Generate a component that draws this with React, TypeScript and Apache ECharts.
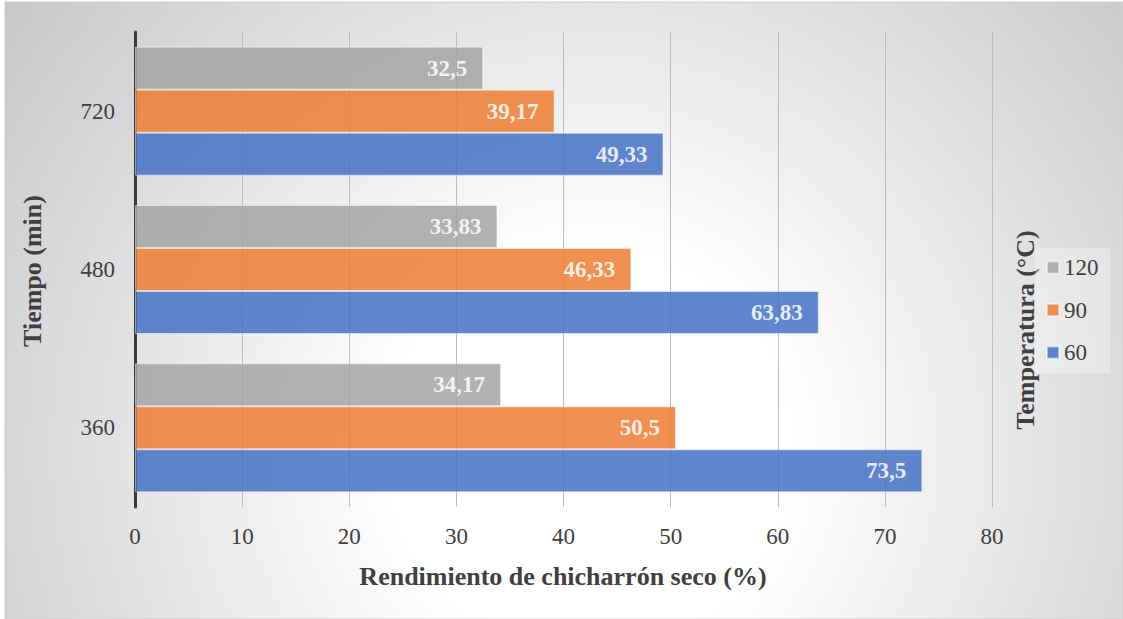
import React, { useEffect, useRef } from "react";
import * as echarts from "echarts";

// Tiempo de cocción (min), de abajo hacia arriba
const tiempos = ["360", "480", "720"];
// Temperaturas (°C), en el orden de la leyenda
const temperaturas = ["120", "90", "60"];
// Rendimiento (%) por temperatura, alineado con `tiempos`
const rend120 = [34.17, 33.83, 32.5];
const rend90 = [50.5, 46.33, 39.17];
const rend60 = [73.5, 63.83, 49.33];
const xTicks = [0, 10, 20, 30, 40, 50, 60, 70, 80];

const colores: Record<string, string> = {
  "120": "#A5A5A5",
  "90": "#ED7D31",
  "60": "#4472C4",
};

const serif = '"Liberation Serif", "Times New Roman", serif';
const ink = "#404040";

export default function App() {
  const ref = useRef<HTMLDivElement>(null);

  useEffect(() => {
    document.body.style.margin = "0";
    if (!ref.current) return;
    const chart = echarts.init(ref.current, undefined, { renderer: "svg" });

    const valores: Record<string, number[]> = {
      "120": rend120,
      "90": rend90,
      "60": rend60,
    };

    const series = temperaturas.map((t) => ({
      name: t,
      type: "bar" as const,
      data: valores[t],
      barGap: "0%",
      barCategoryGap: "18.5%",
      itemStyle: {
        color: colores[t],
        opacity: 0.85,
        borderColor: "rgba(255,255,255,0.55)",
        borderWidth: 1,
      },
      label: {
        show: true,
        position: "insideRight" as const,
        distance: 16,
        color: "#ffffff",
        fontFamily: serif,
        fontWeight: "bold" as const,
        fontSize: 23,
        formatter: (p: any) => String(p.value).replace(".", ","),
      },
    }));

    chart.setOption({
      animation: false,
      graphic: [
        {
          type: "rect",
          z: -10,
          silent: true,
          shape: { x: 5, y: 2, width: 1118, height: 617 },
          style: {
            fill: new echarts.graphic.RadialGradient(
              590,
              450,
              780,
              [
                { offset: 0, color: "#ffffff" },
                { offset: 0.25, color: "#ffffff" },
                { offset: 1, color: "#c2c2c2" },
              ],
              true
            ),
            stroke: "#cfcfcf",
            lineWidth: 1,
          },
        },
        {
          type: "text",
          x: 563,
          y: 576,
          style: {
            text: "Rendimiento de chicharrón seco (%)",
            fontFamily: serif,
            fontWeight: "bold",
            fontSize: 26,
            fill: ink,
            align: "center",
            verticalAlign: "middle",
          },
        },
        {
          type: "text",
          x: 32,
          y: 271,
          rotation: Math.PI / 2,
          style: {
            text: "Tiempo (min)",
            fontFamily: serif,
            fontWeight: "bold",
            fontSize: 26,
            fill: ink,
            align: "center",
            verticalAlign: "middle",
          },
        },
        {
          type: "text",
          x: 1025,
          y: 330,
          rotation: Math.PI / 2,
          style: {
            text: "Temperatura (°C)",
            fontFamily: serif,
            fontWeight: "bold",
            fontSize: 26,
            fill: ink,
            align: "center",
            verticalAlign: "middle",
          },
        },
      ],
      legend: {
        data: temperaturas,
        orient: "vertical",
        left: 1035,
        top: 248,
        padding: [8, 12, 9, 11],
        itemGap: 19.5,
        itemWidth: 12,
        itemHeight: 12,
        icon: "rect",
        backgroundColor: "rgba(255,255,255,0.3)",
        textStyle: { fontFamily: serif, fontSize: 23, color: ink },
      },
      grid: { left: 135, right: 131, top: 32, bottom: 112, containLabel: false },
      xAxis: {
        type: "value",
        min: xTicks[0],
        max: xTicks[xTicks.length - 1],
        interval: 10,
        axisLine: { show: false },
        axisTick: { show: false },
        axisLabel: {
          fontFamily: serif,
          fontSize: 23,
          color: ink,
          margin: 18,
        },
        splitLine: { show: true, lineStyle: { color: "#bdbdbd", width: 1 } },
      },
      yAxis: {
        type: "category",
        data: tiempos,
        axisLine: { show: true, lineStyle: { color: "#3a3a3a", width: 3 } },
        axisTick: { show: false },
        axisLabel: {
          fontFamily: serif,
          fontSize: 23,
          color: ink,
          margin: 20,
        },
      },
      series,
    });

    return () => chart.dispose();
  }, []);

  return <div ref={ref} style={{ width: 1123, height: 619 }} />;
}
